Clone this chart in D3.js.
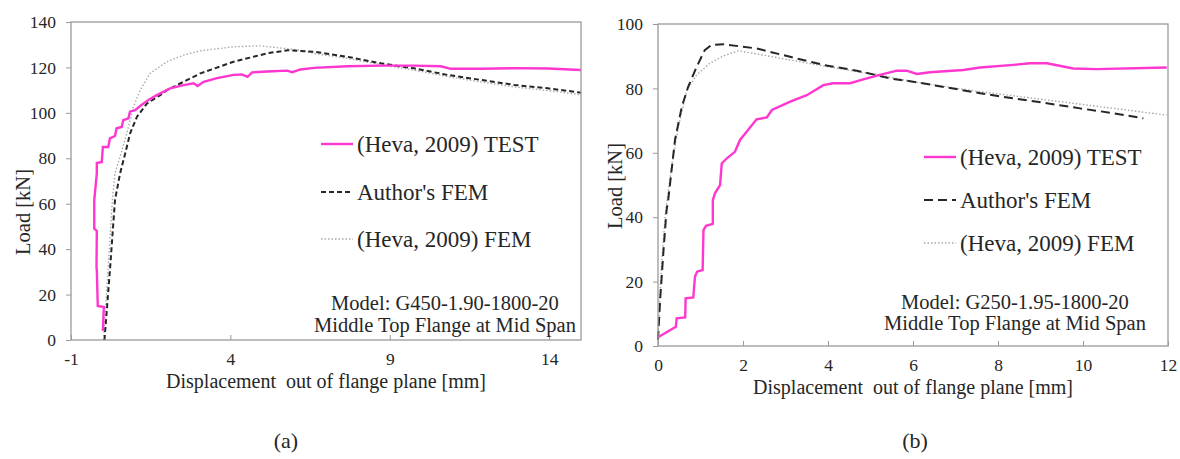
<!DOCTYPE html>
<html>
<head>
<meta charset="utf-8">
<script src="https://cdn.jsdelivr.net/npm/d3@7"></script>
<style>
  body { margin: 0; background: #fff; }
  svg { display: block; }
</style>
</head>
<body>
<svg id="chart" width="1180" height="459"></svg>
<script>
// ---- data ----
// panel (a): G450-1.90-1800-20
const xTicksA = [-1, 4, 9, 14]
const yTicksA = [0, 20, 40, 60, 80, 100, 120, 140]
const testA = [[0.0, 4], [0.03, 14.5], [-0.16, 15], [-0.19, 30.8], [-0.2, 32], [-0.19, 48], [-0.27, 49], [-0.27, 61.6],
  [-0.19, 73.4], [-0.19, 77.9], [-0.035, 78.4], [0.0, 85], [0.17, 85], [0.22, 88.8], [0.38, 89.8], [0.43, 93.2],
  [0.59, 93.8], [0.64, 96.8], [0.8, 97.6], [0.85, 100.5], [1.01, 101.2], [1.17, 103], [1.43, 105.7], [1.69, 107.8],
  [2.11, 110.8], [2.53, 112.2], [2.85, 113], [2.97, 111.8], [3.16, 113.7], [3.58, 115.3], [4.1, 116.7], [4.35, 116.9],
  [4.54, 115.9], [4.68, 117.8], [5.15, 118.2], [5.78, 118.6], [5.94, 117.9], [6.2, 119.1], [6.62, 119.8],
  [7.67, 120.5], [8.72, 120.8], [9.76, 120.8], [10.6, 120.5], [10.92, 119.4], [11.86, 119.4], [12.91, 119.7],
  [13.96, 119.5], [15.0, 118.9]]
const authorA = [[0.05, 0], [0.23, 32.3], [0.38, 61.6], [0.54, 73.4], [0.7, 82.1], [0.855, 91], [1.07, 98.3],
  [1.38, 104.1], [1.8, 107.8], [2.01, 110], [3.06, 117.4], [4.1, 122.5], [5.15, 126.2], [5.8, 127.6], [6.62, 126.9],
  [7.67, 124.7], [8.72, 121.8], [9.76, 119.6], [10.81, 116.7], [11.86, 114.5], [12.91, 112.3], [13.96, 110.8], [15.0, 108.9]]
const hevaA = [[0.02, 0], [0.18, 35], [0.3, 62], [0.38, 73.4], [0.54, 80.7], [0.75, 91], [0.96, 102.7], [1.17, 110],
  [1.48, 117.4], [2.01, 122.5], [2.53, 125.4], [3.06, 127.3], [4.1, 129.1], [4.94, 129.5], [5.68, 128.4], [6.2, 127.6],
  [6.62, 126.2], [7.67, 124], [8.72, 121.2], [9.76, 118.8], [10.81, 116], [11.86, 113.6], [12.91, 111.4], [13.96, 109.8], [15.0, 108]]

// panel (b): G250-1.95-1800-20
const xTicksB = [0, 2, 4, 6, 8, 10, 12]
const yTicksB = [0, 20, 40, 60, 80, 100]
const testB = [[0.0, 2.7], [0.42, 6.0], [0.44, 8.6], [0.64, 8.9], [0.65, 14.8], [0.83, 15.1], [0.87, 21.5], [0.92, 23.1],
  [1.05, 23.6], [1.07, 36], [1.13, 37.3], [1.29, 37.9], [1.29, 45.3], [1.34, 47.4], [1.46, 50], [1.5, 56.7],
  [1.62, 58.3], [1.81, 60.3], [1.93, 64], [2.09, 66.6], [2.32, 70.4], [2.56, 71], [2.68, 73.3], [3.11, 75.9],
  [3.5, 77.9], [3.89, 81], [4.12, 81.6], [4.52, 81.6], [4.83, 82.8], [5.22, 84.2], [5.62, 85.5], [5.85, 85.5],
  [6.09, 84.5], [6.4, 85], [7.18, 85.7], [7.58, 86.5], [8.36, 87.3], [8.75, 87.8], [9.15, 87.8], [9.77, 86.2],
  [10.32, 86], [11.97, 86.5]]
const authorB = [[0.0, 1.9], [0.05, 14.3], [0.13, 29.8], [0.2, 42], [0.24, 45.3], [0.4, 64], [0.56, 74.3], [0.71, 80.5],
  [0.91, 86.7], [1.1, 91.9], [1.26, 93.5], [1.54, 93.7], [2.32, 92.4], [3.11, 89.8], [3.89, 87.3], [4.68, 85.5],
  [5.46, 83.1], [6.0, 82.1], [6.79, 80.3], [7.58, 78.5], [8.36, 76.9], [9.15, 75.4], [9.93, 73.8], [10.72, 72.3], [11.42, 70.7]]
const hevaB = [[0.0, 2.7], [0.08, 25], [0.18, 42], [0.32, 55.7], [0.48, 68.1], [0.68, 79.5], [0.91, 84.2], [1.22, 87.8],
  [1.54, 90.1], [1.89, 91.7], [2.32, 90.7], [3.11, 88.8], [3.89, 87], [4.68, 85.2], [5.22, 84.2], [6.0, 82],
  [7.58, 79], [9.15, 76.4], [10.72, 73.8], [11.97, 71.7]]

const legendLabels = ["(Heva, 2009) TEST", "Author's FEM", "(Heva, 2009) FEM"]

const panels = [
  {box: [71, 22, 581, 340], xDom: [-1, 15], yDom: [0, 140], xTicks: xTicksA, yTicks: yTicksA,
   series: [testA, authorA, hevaA], dash: '5,3', leg: {x: 321, y: [144, 192, 239]}, yTitle: [30, 212],
   model: 'Model: G450-1.90-1800-20', noteX: 445, noteY: [310, 332], caption: '(a)', capX: 286},
  {box: [658, 24, 1168, 346], xDom: [0, 12], yDom: [0, 100], xTicks: xTicksB, yTicks: yTicksB,
   series: [testB, authorB, hevaB], dash: '9,5', leg: {x: 924, y: [157, 200, 243]}, yTitle: [622, 186],
   model: 'Model: G250-1.95-1800-20', noteX: 1015, noteY: [309, 330], caption: '(b)', capX: 915}
]

const FONT = "'Liberation Serif', 'Times New Roman', 'DejaVu Serif', serif"
const INK = '#262626'

const svg = d3.select('#chart').attr('font-family', FONT)
svg.append('rect').attr('width', 1180).attr('height', 459).attr('fill', '#fff')

let addText = (g, x, y, str, size) =>
  g.append('text')
    .attr('x', x).attr('y', y)
    .attr('font-family', FONT).style('font-family', FONT)
    .style('font-size', size + 'px')
    .attr('fill', INK)
    .text(str)

let drawPanel = (p) => {
  let [x0, y0, x1, y1] = p.box,
      x = d3.scaleLinear().domain(p.xDom).range([x0, x1]),
      y = d3.scaleLinear().domain(p.yDom).range([y1, y0]),
      g = svg.append('g'),
      line = d3.line().x(d => x(d[0])).y(d => y(d[1]))

  // styles for TEST, Author's FEM, Heva FEM
  let styles = [
    {stroke: '#ff36cf', width: 2.4, dash: null},
    {stroke: '#262626', width: 2, dash: p.dash},
    {stroke: '#a8a8a8', width: 1.4, dash: '1.5,2'}
  ]

  // curves (gray first so the others sit on top)
  ;[2, 1, 0].forEach(i => {
    g.append('path')
      .attr('d', line(p.series[i]))
      .attr('fill', 'none')
      .attr('stroke', styles[i].stroke)
      .attr('stroke-width', styles[i].width)
      .attr('stroke-dasharray', styles[i].dash)
  })

  // frame
  g.append('rect')
    .attr('x', x0).attr('y', y0)
    .attr('width', x1 - x0).attr('height', y1 - y0)
    .attr('fill', 'none').attr('stroke', '#9a9a9a').attr('stroke-width', 1.3)

  // y axis, ticks point out
  let yAxis = g.append('g')
    .attr('transform', `translate(${x0},0)`)
    .call(d3.axisLeft(y).tickValues(p.yTicks).tickFormat(d => String(d)).tickSize(5).tickPadding(10))
  yAxis.attr('font-family', FONT)
  yAxis.select('.domain').remove()
  yAxis.selectAll('line').attr('stroke', '#9a9a9a')
  yAxis.selectAll('text').style('font-size', '17.5px').style('font-family', FONT).attr('fill', INK)

  // x axis, ticks point in
  let xAxis = g.append('g')
    .attr('transform', `translate(0,${y1})`)
    .call(d3.axisBottom(x).tickValues(p.xTicks).tickFormat(d => String(d)).tickSize(-5).tickPadding(13))
  xAxis.attr('font-family', FONT)
  xAxis.select('.domain').remove()
  xAxis.selectAll('line').attr('stroke', '#9a9a9a')
  xAxis.selectAll('text').style('font-size', '17.5px').style('font-family', FONT).attr('fill', INK)

  // axis titles
  addText(g, (x0 + x1) / 2, y1 + 48, 'Displacement  out of flange plane [mm]', 20)
    .attr('text-anchor', 'middle').style('white-space', 'pre')
  addText(g, 0, 0, 'Load [kN]', 20.5)
    .attr('transform', `translate(${p.yTitle[0]},${p.yTitle[1]}) rotate(-90)`)
    .attr('text-anchor', 'middle')

  // legend
  legendLabels.forEach((lab, i) => {
    let ly = p.leg.y[i]
    g.append('line')
      .attr('x1', p.leg.x).attr('x2', p.leg.x + 32)
      .attr('y1', ly).attr('y2', ly)
      .attr('stroke', styles[i].stroke)
      .attr('stroke-width', styles[i].width)
      .attr('stroke-dasharray', styles[i].dash)
    addText(g, p.leg.x + 36, ly + 8, lab, 23)
  })

  // model note
  addText(g, p.noteX, p.noteY[0], p.model, 20.5).attr('text-anchor', 'middle')
  addText(g, p.noteX, p.noteY[1], 'Middle Top Flange at Mid Span', 20.5).attr('text-anchor', 'middle')

  // caption
  addText(svg, p.capX, 448, p.caption, 22).attr('text-anchor', 'middle')
}

panels.forEach(drawPanel)
</script>
</body>
</html>
